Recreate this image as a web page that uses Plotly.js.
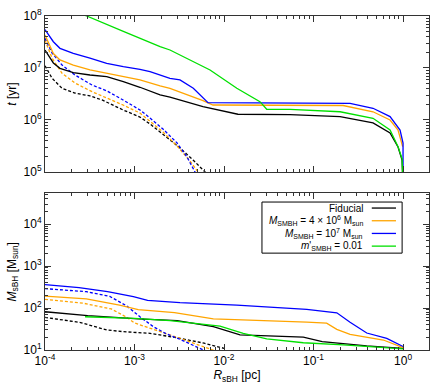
<!DOCTYPE html>
<html>
<head>
<meta charset="utf-8">
<script src="https://cdn.plot.ly/plotly-3.0.1.min.js"></script>
<style>html,body{margin:0;padding:0;background:#fff;}#chart{width:436px;height:388px;}</style>
</head>
<body>
<div id="chart"></div>
<script>
// ---------- data: top panel (t [yr] vs R_sBH [pc]) ----------
const R_top_fid   = [1e-4, 1.24e-4, 1.47e-4, 2.07e-4, 3.18e-4, 4.89e-4, 7.5e-4, 1.15e-3, 1.93e-3, 2.49e-3, 5.82e-3, 1.43e-2, 5.46e-2, 9.14e-2, 0.198, 0.462, 0.716, 0.879, 0.975, 1.0];
const t_top_fid   = [2.22e7, 1.25e7, 9.86e6, 8.13e6, 7.33e6, 6.81e6, 5.46e6, 4.26e6, 3.03e6, 2.74e6, 1.80e6, 1.29e6, 1.27e6, 1.22e6, 1.16e6, 8.76e5, 5.62e5, 3.03e5, 1.7e5, 5e4];
const R_top_m4    = [1e-4, 1.24e-4, 1.47e-4, 2.07e-4, 3.18e-4, 4.89e-4, 7.5e-4, 1.15e-3, 1.93e-3, 2.49e-3, 5.82e-3, 7.53e-3, 0.214, 0.462, 0.716, 0.879, 0.99];
const t_top_m4    = [4.3e7, 1.9e7, 1.43e7, 1.14e7, 9.16e6, 7.91e6, 7.02e6, 5.88e6, 4.51e6, 4.07e6, 2.35e6, 1.94e6, 1.9e6, 1.44e6, 1.0e6, 6.42e5, 3.07e5];
const R_top_m7    = [1e-4, 1.24e-4, 1.47e-4, 2.07e-4, 3.18e-4, 4.89e-4, 7.5e-4, 1.15e-3, 1.49e-3, 1.93e-3, 2.49e-3, 3.22e-3, 4.54e-3, 6.62e-3, 0.256, 0.462, 0.716, 0.926, 1.0, 1.0];
const t_top_m7    = [5.5e7, 3.2e7, 2.39e7, 1.92e7, 1.54e7, 1.23e7, 1.06e7, 9.44e6, 8.5e6, 7.33e6, 6.34e6, 5.88e6, 4.07e6, 2.15e6, 2.08e6, 1.68e6, 1.16e6, 6.42e5, 3.61e5, 5e4];
const R_top_mdot  = [1e-4, 2.92e-4, 7.5e-4, 1.93e-3, 2.49e-3, 6.98e-3, 1.39e-2, 2.52e-2, 3.0e-2, 5.46e-2, 0.198, 0.462, 0.716, 0.879, 0.975, 1.0];
const t_top_mdot  = [2.0e8, 1.0e8, 5.08e7, 2.57e7, 2.22e7, 9.16e6, 4.07e6, 2.25e6, 1.61e6, 1.6e6, 1.44e6, 1.08e6, 6.42e5, 3.07e5, 1.8e5, 5e4];
const R_top_fid_d = [1e-4, 1.2e-4, 1.55e-4, 2.16e-4, 3.18e-4, 4.34e-4, 7.45e-4, 1.15e-3, 1.49e-3, 2.08e-3, 3.22e-3, 4.51e-3, 6.14e-3, 6.6e-3];
const t_top_fid_d = [1.1e7, 6.34e6, 4.07e6, 3.3e6, 2.9e6, 2.43e6, 1.56e6, 1.14e6, 8.38e5, 5.38e5, 2.9e5, 1.7e5, 1.0e5, 8e4];
const R_top_m4_d  = [1e-4, 1.2e-4, 1.55e-4, 2.16e-4, 3.35e-4, 4.93e-4, 7.45e-4, 1.15e-3, 1.49e-3, 2.08e-3, 2.99e-3, 4.17e-3, 5.12e-3, 5.5e-3];
const t_top_m4_d  = [3.45e7, 1.54e7, 7.91e6, 5.15e6, 3.5e6, 2.65e6, 1.94e6, 1.36e6, 9.57e5, 5.88e5, 3.16e5, 1.63e5, 1.0e5, 8e4];
const R_top_m7_d  = [1e-4, 1.2e-4, 1.55e-4, 2.16e-4, 3.35e-4, 4.93e-4, 7.45e-4, 1.15e-3, 1.49e-3, 2.08e-3, 2.99e-3, 3.86e-3, 4.74e-3, 5.1e-3];
const t_top_m7_d  = [3.72e7, 1.94e7, 1.14e7, 7.33e6, 4.71e6, 3.61e6, 2.43e6, 1.56e6, 1.09e6, 6.71e5, 3.61e5, 1.94e5, 1.0e5, 7.5e4];

// ---------- data: bottom panel (M_sBH [M_sun] vs R_sBH [pc]) ----------
const R_bot_fid   = [1e-4, 3e-4, 1.1e-3, 3e-3, 7.6e-3, 1.51e-2, 7.69e-2, 0.125, 0.393, 1.0];
const M_bot_fid   = [81.7, 66, 55, 50, 36, 22.8, 20.3, 15.8, 12.5, 10.9];
const R_bot_m4    = [1e-4, 2.9e-4, 6.8e-4, 1.1e-3, 2.8e-3, 7.6e-3, 8.4e-2, 0.14, 0.182, 0.256, 0.603, 1.0];
const M_bot_m4    = [193, 165, 118, 92, 78, 55, 46, 43.5, 31, 23.7, 17.3, 11.4];
const R_bot_m7    = [1e-4, 2.4e-4, 5e-4, 9.71e-4, 1.4e-3, 3.22e-3, 1.39e-2, 8.39e-2, 0.182, 0.256, 0.393, 0.658, 1.0];
const M_bot_m7    = [360, 305, 245, 186, 152, 134, 118, 93, 77, 46, 25.4, 19, 12.1];
const R_bot_mdot  = [2.8e-4, 1e-3, 2.49e-3, 9.02e-3, 1.64e-2, 3.0e-2, 7.69e-2, 0.166, 0.215, 1.0];
const M_bot_mdot  = [62, 57, 50, 37, 25, 18.5, 14.9, 13.9, 13.2, 10.6];
const R_bot_fid_d = [1e-4, 2.5e-4, 4.9e-4, 7.5e-4, 1.49e-3, 3.22e-3, 6e-3, 1.0e-2];
const M_bot_fid_d = [60, 45, 30, 27.3, 25, 19, 14.5, 11];
const R_bot_m4_d  = [1e-4, 2.7e-4, 5.5e-4, 8e-4, 1.0e-3, 1.65e-3, 3e-3, 5.87e-3, 7.5e-3, 8e-3];
const M_bot_m4_d  = [161, 130, 95, 62, 44, 31, 20, 12, 10, 9.5];
const R_bot_m7_d  = [1e-4, 2.9e-4, 5.3e-4, 8.2e-4, 1.15e-3, 1.62e-3, 2.29e-3, 3.22e-3, 5.87e-3, 7e-3];
const M_bot_m7_d  = [290, 245, 189, 112, 62, 36, 24, 18, 10, 9];

// ---------- labels ----------
const legendLabels = ['Fiducial',
  '<i>M</i><sub>SMBH</sub> = 4 × 10<sup>6</sup> M<sub>sun</sub>',
  '<i>M</i><sub>SMBH</sub> = 10<sup>7</sup> M<sub>sun</sub>',
  '<i>m</i>\'<sub>SMBH</sub> = 0.01'];
const xTickVals = [1e-4, 1e-3, 1e-2, 1e-1, 1];
const xTickText = ['10<sup>-4</sup>', '10<sup>-3</sup>', '10<sup>-2</sup>', '10<sup>-1</sup>', '10<sup>0</sup>'];
const yTopTickVals = [1e5, 1e6, 1e7, 1e8];
const yTopTickText = ['10<sup>5</sup>', '10<sup>6</sup>', '10<sup>7</sup>', '10<sup>8</sup>'];
const yBotTickVals = [1e1, 1e2, 1e3, 1e4];
const yBotTickText = ['10<sup>1</sup>', '10<sup>2</sup>', '10<sup>3</sup>', '10<sup>4</sup>'];

// ---------- styles ----------
const C = {fid: '#000000', m4: '#ffa500', m7: '#0000ff', mdot: '#00e000'};
const LW = 1.3;
const DASH = '3px,2px';

function tr(x, y, color, dash, xa, ya) {
  return {x: x, y: y, type: 'scatter', mode: 'lines', xaxis: xa, yaxis: ya,
    line: {color: color, width: LW, dash: dash || 'solid'}, showlegend: false, hoverinfo: 'skip'};
}

const data = [
  tr(R_top_fid_d, t_top_fid_d, C.fid, DASH, 'x', 'y'),
  tr(R_top_m4_d, t_top_m4_d, C.m4, DASH, 'x', 'y'),
  tr(R_top_m7_d, t_top_m7_d, C.m7, DASH, 'x', 'y'),
  tr(R_top_fid, t_top_fid, C.fid, null, 'x', 'y'),
  tr(R_top_m4, t_top_m4, C.m4, null, 'x', 'y'),
  tr(R_top_m7, t_top_m7, C.m7, null, 'x', 'y'),
  tr(R_top_mdot, t_top_mdot, C.mdot, null, 'x', 'y'),
  tr(R_bot_fid_d, M_bot_fid_d, C.fid, DASH, 'x2', 'y2'),
  tr(R_bot_m4_d, M_bot_m4_d, C.m4, DASH, 'x2', 'y2'),
  tr(R_bot_m7_d, M_bot_m7_d, C.m7, DASH, 'x2', 'y2'),
  tr(R_bot_fid, M_bot_fid, C.fid, null, 'x2', 'y2'),
  tr(R_bot_m4, M_bot_m4, C.m4, null, 'x2', 'y2'),
  tr(R_bot_m7, M_bot_m7, C.m7, null, 'x2', 'y2'),
  tr(R_bot_mdot, M_bot_mdot, C.mdot, null, 'x2', 'y2')
];

// minor tick positions (2..9 per decade)
function minorVals(lo, hi) {
  const v = [];
  for (let e = lo; e <= hi; e++) for (let k = 2; k <= 9; k++) v.push(k * Math.pow(10, e));
  return v;
}

const FONT = 'Liberation Sans, Arial, sans-serif';
function axis(extra) {
  return Object.assign({
    type: 'log', showline: true, linecolor: '#333', linewidth: 1, mirror: 'ticks',
    ticks: 'inside', ticklen: 6, tickwidth: 1, tickcolor: '#333', showgrid: false, zeroline: false,
    tickfont: {family: FONT, size: 12, color: '#000'}, tickmode: 'array'
  }, extra);
}

const layout = {
  width: 436, height: 388,
  margin: {l: 45, r: 7, t: 16, b: 38},
  paper_bgcolor: '#fff', plot_bgcolor: '#fff',
  font: {family: FONT, size: 12, color: '#000'},
  xaxis: axis({anchor: 'y', domain: [0, 1], range: [-4, 0.29], tickvals: xTickVals, ticktext: xTickText, showticklabels: false,
    minor: {tickmode: 'array', tickvals: minorVals(-4, 0), ticks: 'inside', ticklen: 3, tickcolor: '#333'}}),
  yaxis: axis({anchor: 'x', domain: [0.533, 1], range: [5, 8], tickvals: yTopTickVals, ticktext: yTopTickText,
    minor: {tickmode: 'array', tickvals: minorVals(5, 7), ticks: 'inside', ticklen: 3, tickcolor: '#333'},
    title: {text: '<i>t</i> [yr]', font: {family: FONT, size: 12}, standoff: 4}}),
  xaxis2: axis({anchor: 'y2', domain: [0, 1], range: [-4, 0.29], tickvals: xTickVals, ticktext: xTickText,
    minor: {tickmode: 'array', tickvals: minorVals(-4, 0), ticks: 'inside', ticklen: 3, tickcolor: '#333'},
    title: {text: '<i>R</i><sub>sBH</sub> [pc]', font: {family: FONT, size: 12}, standoff: 2}}),
  yaxis2: axis({anchor: 'x2', domain: [0, 0.4686], range: [1, 4.73], tickvals: yBotTickVals, ticktext: yBotTickText,
    minor: {tickmode: 'array', tickvals: minorVals(1, 4), ticks: 'inside', ticklen: 3, tickcolor: '#333'},
    title: {text: '<i>M</i><sub>sBH</sub> [M<sub>sun</sub>]', font: {family: FONT, size: 12}, standoff: 4}}),
  shapes: [], annotations: []
};

// manual legend (text right, line sample on right) in bottom panel
const legX0 = 0.565, legX1 = 0.930, legY0 = 0.290, legY1 = 0.443;
layout.shapes.push({type: 'rect', xref: 'paper', yref: 'paper', x0: legX0, x1: legX1, y0: legY0, y1: legY1,
  line: {color: '#000', width: 1}, fillcolor: '#fff', layer: 'above'});
const legColors = [C.fid, C.m4, C.m7, C.mdot];
const rowY = [0.425, 0.387, 0.349, 0.311];
legendLabels.forEach((lab, i) => {
  layout.annotations.push({xref: 'paper', yref: 'paper', x: 0.831, y: rowY[i], xanchor: 'right', yanchor: 'middle',
    text: lab, showarrow: false, font: {family: FONT, size: 10, color: '#000'}, borderpad: 0});
  layout.shapes.push({type: 'line', xref: 'paper', yref: 'paper', x0: 0.851, x1: 0.914, y0: rowY[i], y1: rowY[i],
    line: {color: legColors[i], width: LW}, layer: 'above'});
});

Plotly.newPlot('chart', data, layout, {staticPlot: true, displayModeBar: false});
</script>
</body>
</html>
